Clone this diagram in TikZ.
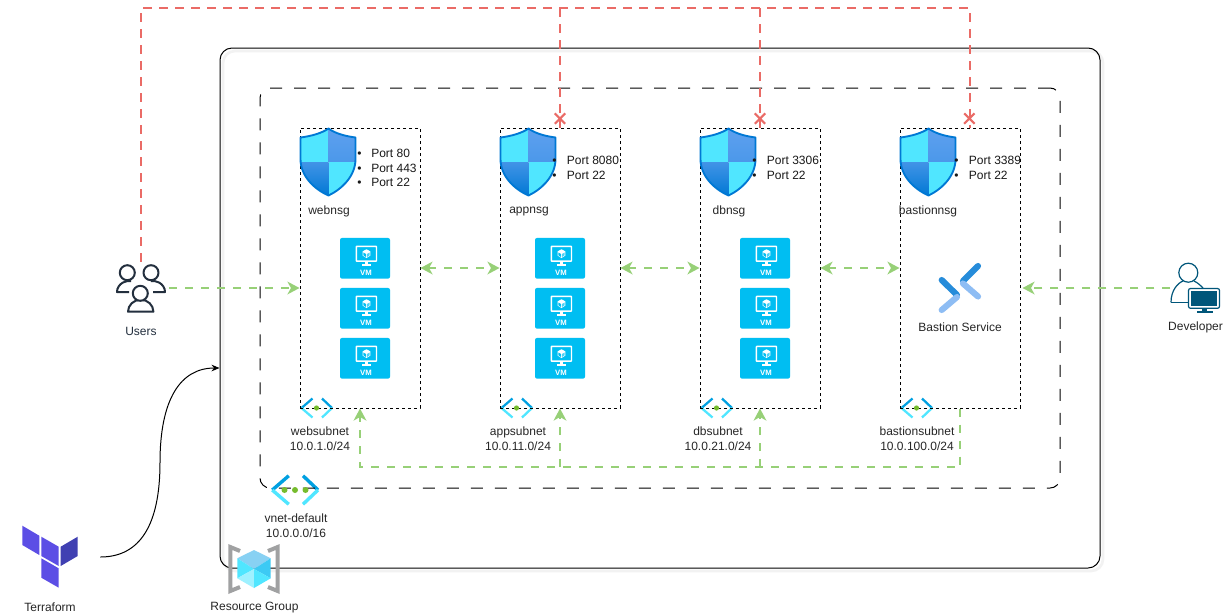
\documentclass[tikz,border=0pt]{standalone}
\usepackage{fontspec}
\setmainfont{Liberation Sans}
\usetikzlibrary{arrows.meta,shapes.misc}
\definecolor{redl}{HTML}{EA6B66}
\definecolor{greenl}{HTML}{97D077}
\definecolor{vmblue}{HTML}{00BEF2}
\definecolor{msblue}{HTML}{0078D4}
\definecolor{cyanl}{HTML}{50E6FF}
\definecolor{midblue}{HTML}{5EA0EF}
\definecolor{awsdark}{HTML}{232F3E}
\definecolor{devblue}{HTML}{00567A}
\definecolor{tfpurple}{HTML}{5C4EE5}
\definecolor{tfdark}{HTML}{4040B2}
\definecolor{greydk}{HTML}{A0A1A2}
\definecolor{dotgreen}{HTML}{76BC2D}
\tikzset{
  lab/.style={font=\fontsize{9}{11}\selectfont,text=black!85,inner sep=0pt,align=center},
  portlist/.style={font=\fontsize{9}{11}\selectfont,text=black!90,inner sep=0pt,align=left,anchor=north west},
  outerbox/.style={draw=black,line width=.75pt,rounded corners=9pt,minimum width=660pt,minimum height=390pt,inner sep=0pt},
  vnetbox/.style={draw=black,line width=.75pt,rounded corners=7.5pt,dash pattern=on 9pt off 9pt,minimum width=600pt,minimum height=300pt,inner sep=0pt},
  subnetbox/.style={draw=black,line width=.75pt,dash pattern=on 2.25pt off 2.25pt,minimum width=90pt,minimum height=210pt,inner sep=0pt},
  vmbox/.style={fill=vmblue,rounded corners=1.5pt,minimum width=37.5pt,minimum height=30.5pt,inner sep=0pt},
  iconanchor/.style={minimum width=#1,minimum height=39pt,inner sep=0pt},
  greenflow/.style={draw=greenl,line width=1.9pt,dash pattern=on 6pt off 6pt,-{Stealth[length=9pt,width=9.5pt,inset=2.6pt]}},
  greenboth/.style={greenflow,{Stealth[length=9pt,width=9.5pt,inset=2.6pt]}-{Stealth[length=9pt,width=9.5pt,inset=2.6pt]}},
  redflow/.style={draw=redl,line width=1.9pt,dash pattern=on 6.5pt off 5.5pt},
  redcross/.style={cross out,draw=redl,line width=1.6pt,minimum size=6.2pt,inner sep=0pt},
}
\newcommand\shieldpath{(28.5,.5) .. controls (34.5,5) and (44,8) .. (55.5,9.5) -- (55.5,31) .. controls (55.5,48) and (42,61) .. (28.5,67.5) .. controls (14,61) and (.5,48) .. (.5,31) -- (.5,9.5) .. controls (12,8) and (22,5) .. (28.5,.5) -- cycle}
\newcommand\shieldicon[2]{%
  \begin{scope}[shift={(#1,#2)}]
    \begin{scope}
      \clip \shieldpath;
      \fill[cyanl] (0,0) rectangle (28.5,34);
      \shade[top color=midblue,bottom color=midblue!80!msblue] (28.5,0) rectangle (56,34);
      \shade[top color=midblue!70!msblue,bottom color=msblue] (0,34) rectangle (28.5,68);
      \fill[cyanl] (28.5,34) rectangle (56,68);
    \end{scope}
    \draw[msblue,line width=1.4pt,line join=round] \shieldpath;
  \end{scope}}
\newcommand\vmicon[3]{%
  \node[vmbox] (#1) at (#2+25,#3+20.3) {};
  \begin{scope}[shift={(#2,#3)}]
    \draw[white,line width=1.1pt,rounded corners=.5pt] (16.3,8.3) rectangle (36.5,23.2);
    \fill[white] (24.7,23.5) rectangle (28.3,26.5);
    \fill[white] (22,26.2) rectangle (31,27.6);
    \fill[white] (26.5,11.3) -- (30.3,13.3) -- (30.3,17.6) -- (26.5,20) -- (22.7,17.6) -- (22.7,13.3) -- cycle;
    \fill[vmblue] (26,16) -- (26,19) -- (23.4,17.3) -- (23.4,14.5) -- cycle;
    \fill[vmblue!70] (27,16) -- (27,19) -- (29.6,17.3) -- (29.6,14.5) -- cycle;
    \node[font=\fontsize{5.8}{6}\bfseries\selectfont,text=white,inner sep=0pt] (#1t) at (26,35) {VM};
  \end{scope}}
\newcommand\vmcolumn[2]{\vmicon{#1a}{#2}{238}\vmicon{#1b}{#2}{288}\vmicon{#1c}{#2}{338}}
\newcommand\subneticon[3]{%
  \begin{scope}[shift={(#1,#2)},scale=#3]
    \draw[msblue!70!cyan,line width=#3*1.7pt,line join=round] (12.5,-9.5) -- (1.5,0);
    \draw[cyanl,line width=#3*1.7pt] (1.5,0) -- (12.5,9.5);
    \draw[msblue!70!cyan,line width=#3*1.7pt] (22,-9.5) -- (32,0);
    \draw[cyanl,line width=#3*1.7pt] (32,0) -- (22,9.5);
  \end{scope}}
\begin{document}
\begin{tikzpicture}[x=0.75pt,y=-0.75pt]
\useasboundingbox (0,0) rectangle (1223,615);
\fill[white] (0,0) rectangle (1223,615);

% containers
\draw[black!5,line width=2pt,rounded corners=9pt] (223,51) rectangle (1103,571);
\node[outerbox] (outer) at (660,308) {};
\subneticon{270}{490}{1.5}
\node[vnetbox] (vnet) at (660,288) {};
\fill[dotgreen] (284.5,490) circle (3) (295,490) circle (3) (305.5,490) circle (3);

% subnet icons and boxes
\subneticon{300}{408}{1}
\subneticon{500}{408}{1}
\subneticon{700}{408}{1}
\subneticon{900}{408}{1}
\node[subnetbox] (web) at (360,268) {};
\node[subnetbox] (app) at (560,268) {};
\node[subnetbox] (db) at (760,268) {};
\node[subnetbox] (bast) at (960,268) {};
\fill[dotgreen] (316.5,408) circle (2.6) (516.5,408) circle (2.6) (716.5,408) circle (2.6) (916.5,408) circle (2.6);

\shieldicon{300}{128}
\shieldicon{500}{128}
\shieldicon{700}{128}
\shieldicon{900}{128}

\node[lab] (webnsg) at (329,211.5) {webnsg};
\node[lab] (appnsg) at (529,211.5) {appnsg};
\node[lab] (dbnsg) at (729,211.5) {dbnsg};
\node[lab] (bastnsg) at (928,211.5) {bastionnsg};

\node[portlist] (webports) at (357,149) {\makebox[10.5pt][l]{•}Port 80\\\makebox[10.5pt][l]{•}Port 443\\\makebox[10.5pt][l]{•}Port 22};
\node[portlist] (appports) at (552,156) {\makebox[11pt][l]{•}Port 8080\\\makebox[11pt][l]{•}Port 22};
\node[portlist] (dbports) at (752,156) {\makebox[11pt][l]{•}Port 3306\\\makebox[11pt][l]{•}Port 22};
\node[portlist] (bastports) at (954,156) {\makebox[11pt][l]{•}Port 3389\\\makebox[11pt][l]{•}Port 22};

\vmcolumn{wv}{340}
\vmcolumn{av}{535}
\vmcolumn{dv}{740}

% bastion service
\draw[line width=4.6pt,line cap=round,color=msblue!85!white] (941.7,280) -- (957,295);
\draw[line width=4.6pt,line cap=round,color=midblue!70!white] (957,297) -- (941.7,310);
\draw[line width=4.6pt,line cap=round,color=msblue!85!white] (978,266) -- (963,281);
\draw[line width=4.6pt,line cap=round,color=midblue!70!white] (963,283.5) -- (978,296.5);
\node[lab] (bastservice) at (960,327) {Bastion Service};

\node[lab] (webl) at (320,438.5) {websubnet\\10.0.1.0/24};
\node[lab] (appl) at (518,438.5) {appsubnet\\10.0.11.0/24};
\node[lab] (dbl) at (718,438.5) {dbsubnet\\10.0.21.0/24};
\node[lab] (bastl) at (917,438.5) {bastionsubnet\\10.0.100.0/24};
\node[lab] (vnetl) at (296,526) {vnet-default\\10.0.0.0/16};

% users
\node[iconanchor=42pt] (users) at (141,288) {};
\begin{scope}[awsdark,line width=1.5pt,line join=round]
  \draw (127.3,272.7) circle (7.5);
  \draw (151,272.7) circle (7.5);
  \draw (129,292) -- (117,292) arc[start angle=180,end angle=280,x radius=12,y radius=11];
  \draw (153,292) -- (165,292) arc[start angle=0,end angle=-100,x radius=12,y radius=11];
  \draw[fill=white] (128,311.7) arc[start angle=180,end angle=360,x radius=12.7,y radius=12] -- cycle;
  \draw[fill=white] (140.3,293.3) circle (7.5);
\end{scope}
\node[lab,text=awsdark] (usersl) at (141,331.5) {Users};

% developer
\node[iconanchor=38pt] (dev) at (1196,288) {};
\begin{scope}[devblue]
  \draw[line width=.9pt,fill=white] (1188.3,272.7) circle (9.5);
  \draw[line width=.9pt] (1171,302.3) .. controls (1171,290) and (1178,283) .. (1183,281);
  \draw[line width=.9pt] (1194,281) .. controls (1198,283) and (1200,285) .. (1203,288);
  \draw[line width=.9pt] (1171,302.3) -- (1188,302.3);
  \draw[line width=.9pt,fill=white,rounded corners=1.5pt] (1188.5,288.5) rectangle (1219.5,308.3);
  \fill (1191,291) rectangle (1217,305.5);
  \fill (1202,308.5) rectangle (1207,311);
  \fill (1196.5,310.5) rectangle (1213,313);
\end{scope}
\node[lab] (devl) at (1195.5,327) {Developer};

% terraform
\node[iconanchor=75pt] (tf) at (50,557) {};
\fill[tfpurple] (22.3,525.7) -- (39.3,535.7) -- (39.3,555) -- (22.3,545) -- cycle;
\fill[tfpurple] (41.3,536.7) -- (58.7,546.7) -- (58.7,566) -- (41.3,556) -- cycle;
\fill[tfdark] (60.7,546.7) -- (77.7,536.7) -- (77.7,556) -- (60.7,566) -- cycle;
\fill[tfpurple] (41.3,558.3) -- (58.7,568.3) -- (58.7,587.7) -- (41.3,577.7) -- cycle;
\node[lab] (tfl) at (50,607.5) {Terraform};

% resource group
\draw[greydk,line width=3pt,line join=miter] (240,551) -- (230.3,547) -- (230.3,591) -- (240,587);
\draw[greydk,line width=3pt,line join=miter] (268,551) -- (277.7,547) -- (277.7,591) -- (268,587);
\fill[cyan!30!cyanl!60!white] (254,550) -- (270.7,558.3) -- (254,569) -- (237.3,558.3) -- cycle;
\fill[cyanl] (237.3,558.3) -- (254,569) -- (237.3,578.3) -- cycle;
\fill[cyanl!75!msblue] (270.7,558.3) -- (254,569) -- (270.7,578.3) -- cycle;
\fill[cyanl!55!white] (237.3,578.3) -- (254,569) -- (254,588) -- cycle;
\fill[cyanl] (270.7,578.3) -- (254,569) -- (254,588) -- cycle;
\node[lab] (rgl) at (254.5,607.5) {Resource Group};

% connectors
\coordinate (rt) at (970,8);
\coordinate (bus) at (960,467);
\draw[redflow] (users.north) |- (rt) -- (rt |- bast.north);
\draw[redflow] (app.north |- rt) -- (app.north);
\draw[redflow] (db.north |- rt) -- (db.north);
\node[redcross] (xapp) at ([yshift=6.7pt]app.north) {};
\node[redcross] (xdb) at ([yshift=6.7pt]db.north) {};
\node[redcross] (xbast) at ([xshift=7pt,yshift=6.7pt]bast.north) {};

\draw[greenflow] (users.east) -- (users.east -| web.west);
\draw[greenboth] (web.east) -- (app.west);
\draw[greenboth] (app.east) -- (db.west);
\draw[greenboth] (db.east) -- (bast.west);
\draw[greenflow] (dev.west) -- ([xshift=1.5pt]bast.east |- dev.west);
\draw[greenflow] (bast.south) -- (bus) -| (web.south);
\draw[greenflow] (app.south |- bus) -- (app.south);
\draw[greenflow] (db.south |- bus) -- (db.south);

\draw[black,line width=.75pt,-{Stealth[length=6pt,width=5pt]}] (tf.east) .. controls (140,557) and (160,525) .. (160,462.5) .. controls (160,400) and (180,368) .. (outer.west |- 0,368);
\end{tikzpicture}
\end{document}
